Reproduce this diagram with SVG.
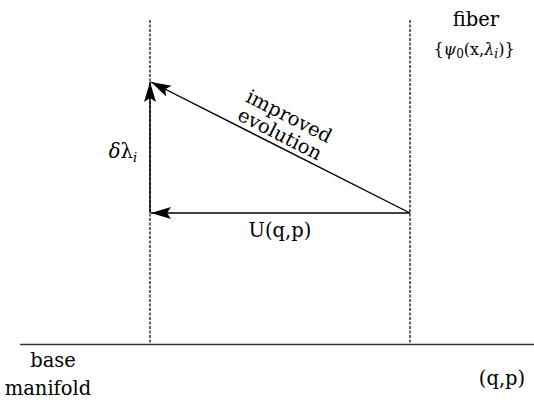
<svg xmlns="http://www.w3.org/2000/svg" width="534" height="403" viewBox="0 0 534 403">
<style>
text{font-family:"DejaVu Serif","Liberation Serif",serif;fill:#000}
.dash{stroke:#000;stroke-width:1.2;stroke-dasharray:3,1.5;fill:none}
.ln{stroke:#000;stroke-width:1.4;fill:none}
</style>
<defs>
<marker id="ah" markerUnits="userSpaceOnUse" markerWidth="22" markerHeight="14" refX="20" refY="6" orient="auto" viewBox="0 0 22 12">
<path d="M0,0 L20,6 L0,12 L4,6 Z" fill="#000"/>
</marker>
</defs>
<rect width="534" height="403" fill="#fff"/>
<g id="axes">
<line class="dash" x1="150" y1="20" x2="150" y2="344"/>
<line class="dash" x1="410" y1="20" x2="410" y2="344"/>
<line x1="20" y1="344.5" x2="534" y2="344.5" stroke="#333" stroke-width="1.4"/>
</g>
<g id="connectors">
<line class="ln" x1="150" y1="213" x2="150" y2="82" marker-end="url(#ah)"/>
<line class="ln" x1="410" y1="213" x2="151" y2="213" marker-end="url(#ah)"/>
<line class="ln" x1="410" y1="213" x2="151" y2="82" marker-end="url(#ah)"/>
</g>
<g id="labels">
<text x="476" y="26" font-size="19.5" text-anchor="middle">fiber</text>
<text x="474" y="55" font-size="16" text-anchor="middle">{<tspan font-style="italic">ψ</tspan><tspan font-size="12" dy="3">0</tspan><tspan dy="-3">(x,</tspan><tspan font-style="italic">λ</tspan><tspan font-size="12" dy="3" font-style="italic">i</tspan><tspan dy="-3">)}</tspan></text>
<text x="123" y="158" font-size="19.5" text-anchor="middle"><tspan font-style="italic">δ</tspan>λ<tspan font-size="13" dy="4" font-style="italic">i</tspan></text>
<text x="280" y="237" font-size="19.5" text-anchor="middle">U(q,p)</text>
<g transform="translate(277,140) rotate(27)">
<text x="0" y="-20" font-size="19.5" text-anchor="middle">improved</text>
<text x="0" y="0" font-size="19.5" text-anchor="middle">evolution</text>
</g>
<text x="53" y="367" font-size="19.5" text-anchor="middle">base</text>
<text x="48" y="395" font-size="19.5" text-anchor="middle">manifold</text>
<text x="502" y="385" font-size="19.5" text-anchor="middle">(q,p)</text>
</g>
</svg>
